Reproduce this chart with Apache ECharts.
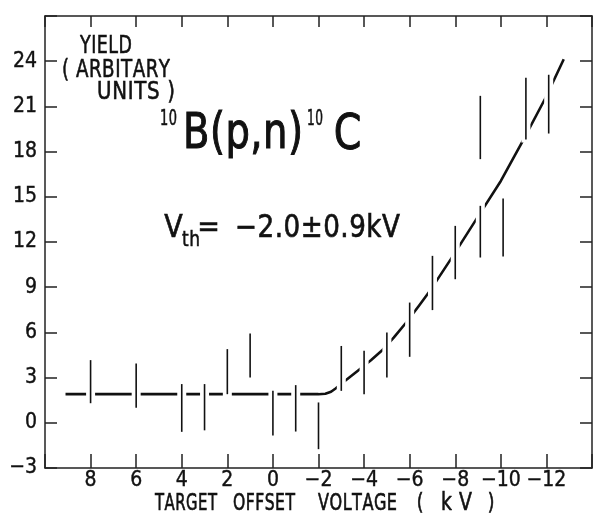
<!DOCTYPE html>
<html>
<head>
<meta charset="utf-8">
<script src="https://cdn.jsdelivr.net/npm/echarts@6/dist/echarts.min.js"></script>
<style>
html,body{margin:0;padding:0;background:#fff;}
#chart{width:595px;height:520px;}
</style>
</head>
<body>
<div id="chart"></div>
<script>
// ---- data ----
const voltage   = [8, 6, 4, 3, 2, 1, 0, -1, -2, -3, -4, -5, -6, -7, -8, -9.1, -9.1, -10.1, -11.1, -12.1];
const yieldLow  = [1.3, 1.0, -0.6, -0.5, 1.9, 3.0, -0.85, -0.58, -1.75, 2.12, 1.9, 3.0, 4.38, 7.48, 9.53, 10.97, 17.5, 11.04, 18.8, 19.2];
const yieldHigh = [4.16, 3.93, 2.57, 2.57, 4.89, 5.93, 2.12, 2.5, 1.35, 5.1, 4.78, 5.99, 7.98, 11.08, 13.07, 14.4, 21.7, 14.88, 22.9, 23.1];
const fitX = [9.1, -2.0, -2.3, -2.55, -2.75, -3.17, -3.81, -4.3, -4.77, -5.3, -5.85, -6.4, -6.94, -7.9, -8.92, -10.0, -10.94, -11.97, -12.76];
const fitY = [1.9, 1.9, 1.93, 2.06, 2.28, 2.79, 3.56, 4.15, 4.78, 5.65, 6.66, 7.75, 8.87, 11.08, 13.5, 16.05, 18.65, 21.59, 24.13];
const xTicks = {min: -14, max: 10, step: 2};
const yTicks = {min: -3, max: 27, step: 3};

const FONT = '"Liberation Sans Narrow", "DejaVu Sans Condensed", sans-serif';
const INK = '#111';

const chart = echarts.init(document.getElementById('chart'), null, {renderer: 'canvas'});

// helper: place characters spread between x0 and x1 (annotation lettering)
const mctx = document.createElement('canvas').getContext('2d');
function spaced(str, x0, x1, cy, size, sy, bw) {
  mctx.font = size + 'px ' + FONT;
  const chars = Array.from(str);
  const w = chars.map(c => mctx.measureText(c).width);
  const total = w.reduce((a, b) => a + b, 0);
  const els = [];
  if (chars.length === 1) {
    const cx = (x0 + x1) / 2 - w[0] / 2;
    els.push(mk(chars[0], cx, cy, size, sy, 1, bw));
    return els;
  }
  let gap = (x1 - x0 - total) / (chars.length - 1);
  let sx = 1;
  if (gap < 0.5) {
    gap = 0.5;
    sx = (x1 - x0 - gap * (chars.length - 1)) / total;
  }
  let x = x0;
  chars.forEach((c, i) => {
    if (c !== ' ') els.push(mk(c, x, cy, size, sy, sx, bw));
    x += w[i] * sx + gap;
  });
  return els;
}
function mk(c, x, cy, size, sy, sx, bw) {
  return {
    type: 'text', x: x, y: cy, scaleY: sy || 1, scaleX: sx || 1, silent: true, z: 100,
    style: {text: c, fontSize: size, fontFamily: FONT, fill: INK,
            stroke: INK, lineWidth: bw || 0.5,
            textAlign: 'left', align: 'left', textVerticalAlign: 'middle', verticalAlign: 'middle'}
  };
}

const fmtX = v => (v === xTicks.min || v === xTicks.max) ? '' : (v < 0 ? '\u2212' + Math.abs(v) : String(v));
const fmtY = v => (v === yTicks.max) ? '' : (v < 0 ? '\u2212' + Math.abs(v) : String(v));

const axisLine = {show: true, onZero: false, lineStyle: {color: '#222', width: 1.5}};
const tickStyle = {color: '#222', width: 1.5};
const grid = {left: 45, top: 16, width: 562, height: 452};
const labelStyle = {fontSize: 21, fontFamily: FONT, color: INK, textBorderColor: INK, textBorderWidth: 0.4};

const graphics = [].concat(
  spaced('YIELD', 80, 132, 46.5, 22, 1.1),
  spaced('( ARBITARY', 62, 170, 71, 22, 1.1),
  spaced('UNITS )', 97, 175, 92.5, 22, 1.1),
  spaced('10', 160, 177, 119.5, 20, 1.05),
  spaced('B(p,n)', 183, 303, 135.5, 44, 1.12, 0.9),
  spaced('10', 307, 323, 120, 20, 1.05),
  spaced('C', 338, 357, 136.5, 44, 1.12, 0.9),
  spaced('V', 165, 182, 228.5, 30, 1.05, 0.6),
  spaced('th', 182, 200, 240, 22, 1.0),
  spaced('=', 200, 217, 228.5, 30, 1.0, 0.6),
  spaced('\u22122.0\u00b10.9kV', 235, 400, 228.5, 30, 1.05, 0.6),
  spaced('TARGET', 155, 217, 504, 19, 1.25),
  spaced('OFFSET', 233, 295, 504, 19, 1.25),
  spaced('VOLTAGE', 318, 397, 504, 19, 1.25),
  spaced('(', 416, 424, 504, 19, 1.25),
  spaced('kV', 441, 472, 504, 21, 1.15),
  spaced(')', 487, 495, 504, 19, 1.25)
);

const option = {
  backgroundColor: '#fff',
  animation: false,
  grid: grid,
  xAxis: [
    {type: 'value', position: 'bottom', inverse: true, min: xTicks.min, max: xTicks.max, interval: xTicks.step,
     axisLine: axisLine, splitLine: {show: false},
     axisTick: {show: true, inside: true, length: 14, lineStyle: tickStyle},
     axisLabel: Object.assign({formatter: fmtX, margin: 2}, labelStyle)},
    {type: 'value', position: 'top', inverse: true, min: xTicks.min, max: xTicks.max, interval: xTicks.step,
     axisLine: axisLine, splitLine: {show: false},
     axisTick: {show: true, inside: true, length: 11, lineStyle: tickStyle},
     axisLabel: {show: false}}
  ],
  yAxis: [
    {type: 'value', position: 'left', min: yTicks.min, max: yTicks.max, interval: yTicks.step,
     axisLine: axisLine, splitLine: {show: false},
     axisTick: {show: true, inside: true, length: 12, lineStyle: tickStyle},
     axisLabel: Object.assign({formatter: fmtY, margin: 8}, labelStyle)},
    {type: 'value', position: 'right', min: yTicks.min, max: yTicks.max, interval: yTicks.step,
     axisLine: axisLine, splitLine: {show: false},
     axisTick: {show: true, inside: true, length: 12, lineStyle: tickStyle},
     axisLabel: {show: false}}
  ],
  series: [
    {type: 'line', xAxisIndex: 0, yAxisIndex: 0, z: 2,
     data: fitX.map((x, i) => [x, fitY[i]]),
     showSymbol: false, smooth: false,
     lineStyle: {color: INK, width: 2.6, join: 'round'}},
    {type: 'custom', xAxisIndex: 0, yAxisIndex: 0, z: 3,
     data: voltage.map((x, i) => [x, yieldLow[i], yieldHigh[i]]),
     encode: {x: 0, y: [1, 2]},
     renderItem: function (params, api) {
       const lo = api.coord([api.value(0), api.value(1)]);
       const hi = api.coord([api.value(0), api.value(2)]);
       return {type: 'group', children: [
         {type: 'line', shape: {x1: lo[0], y1: lo[1] + 3, x2: hi[0], y2: hi[1] - 3},
          style: {stroke: '#fff', lineWidth: 9}},
         {type: 'line', shape: {x1: lo[0], y1: lo[1], x2: hi[0], y2: hi[1]},
          style: {stroke: INK, lineWidth: 1.6}}
       ]};
     }}
  ],
  graphic: graphics
};
chart.setOption(option);
</script>
</body>
</html>
